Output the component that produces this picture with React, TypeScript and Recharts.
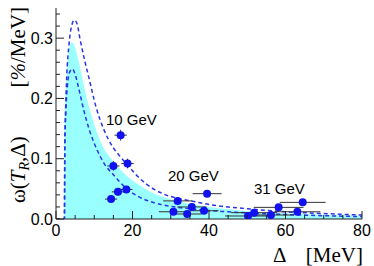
import React from 'react';
import { ComposedChart, XAxis, YAxis, Area, Line, Scatter, ErrorBar } from 'recharts';

const xTicks = [0, 5, 10, 15, 20, 25, 30, 35, 40, 45, 50, 55, 60, 65, 70, 75, 80];
const xMajor = [0, 20, 40, 60, 80];
const yTicks = [0, 0.02, 0.04, 0.06, 0.08, 0.1, 0.12, 0.14, 0.16, 0.18, 0.2, 0.22, 0.24, 0.26, 0.28, 0.3, 0.32, 0.34];
const yMajor = [0, 0.1, 0.2, 0.3];
const yMajorLabels = ['0.0', '0.1', '0.2', '0.3'];

const cyanBand = [
  { x: 2.2, y: 0 }, { x: 2.25, y: 0.16 }, { x: 2.8, y: 0.235 }, { x: 3.4, y: 0.278 },
  { x: 4.1, y: 0.293 }, { x: 4.8, y: 0.288 }, { x: 5.5, y: 0.272 }, { x: 6.5, y: 0.245 },
  { x: 7.5, y: 0.215 }, { x: 8.8, y: 0.182 }, { x: 10.5, y: 0.147 }, { x: 12.6, y: 0.116 },
  { x: 14.8, y: 0.097 }, { x: 17, y: 0.081 }, { x: 19, y: 0.069 }, { x: 21.3, y: 0.058 },
  { x: 25.7, y: 0.042 }, { x: 28.3, y: 0.036 }, { x: 32, y: 0.029 }, { x: 36, y: 0.024 },
  { x: 40, y: 0.02 }, { x: 45, y: 0.016 }, { x: 50, y: 0.013 }, { x: 60, y: 0.0095 },
  { x: 70, y: 0.007 }, { x: 80, y: 0.0055 },
];

const upperCurve = [
  { x: 0, y: 0 }, { x: 2.2, y: 0 }, { x: 2.3, y: 0.12 }, { x: 2.5, y: 0.18 }, { x: 2.8, y: 0.235 },
  { x: 3.4, y: 0.29 }, { x: 4, y: 0.318 }, { x: 4.8, y: 0.33 }, { x: 5.5, y: 0.324 },
  { x: 6.3, y: 0.298 }, { x: 7.5, y: 0.263 }, { x: 8.5, y: 0.237 }, { x: 10.5, y: 0.185 },
  { x: 12.6, y: 0.147 }, { x: 15, y: 0.118 }, { x: 17, y: 0.102 }, { x: 19.2, y: 0.086 },
  { x: 21.3, y: 0.071 }, { x: 25.7, y: 0.049 }, { x: 28.3, y: 0.041 }, { x: 32, y: 0.034 },
  { x: 36, y: 0.029 }, { x: 40, y: 0.024 }, { x: 45, y: 0.02 }, { x: 50, y: 0.017 },
  { x: 60, y: 0.012 }, { x: 70, y: 0.009 }, { x: 80, y: 0.0065 },
];

const lowerCurve = [
  { x: 0, y: 0 }, { x: 2.2, y: 0 }, { x: 2.3, y: 0.12 }, { x: 2.6, y: 0.18 }, { x: 3, y: 0.222 },
  { x: 3.6, y: 0.244 }, { x: 4.3, y: 0.249 }, { x: 5, y: 0.24 }, { x: 6, y: 0.215 },
  { x: 7.2, y: 0.182 }, { x: 8.7, y: 0.148 }, { x: 10.5, y: 0.118 }, { x: 12.6, y: 0.092 },
  { x: 15.2, y: 0.072 }, { x: 17.8, y: 0.054 }, { x: 21.3, y: 0.038 }, { x: 25.7, y: 0.027 },
  { x: 30, y: 0.021 }, { x: 35, y: 0.017 }, { x: 40, y: 0.014 }, { x: 45, y: 0.012 },
  { x: 50, y: 0.01 }, { x: 60, y: 0.0075 }, { x: 70, y: 0.0055 }, { x: 80, y: 0.004 },
];

const pts10 = [
  { x: 16.9, y: 0.139, ex: 1.6, ey: 0.009 },
  { x: 15.0, y: 0.088, ex: 1.6, ey: 0.008 },
  { x: 18.7, y: 0.092, ex: 1.6, ey: 0.008 },
  { x: 16.2, y: 0.045, ex: 1.6, ey: 0.006 },
  { x: 18.4, y: 0.049, ex: 1.6, ey: 0.006 },
  { x: 14.4, y: 0.033, ex: 1.6, ey: 0.005 },
];

const pts20 = [
  { x: 39.5, y: 0.042, ex: 3.8, ey: 0.005 },
  { x: 31.8, y: 0.030, ex: 3.8, ey: 0.004 },
  { x: 35.5, y: 0.020, ex: 3.8, ey: 0.004 },
  { x: 38.7, y: 0.0137, ex: 3.8, ey: 0.003 },
  { x: 30.7, y: 0.012, ex: 3.8, ey: 0.003 },
  { x: 34.3, y: 0.0083, ex: 3.8, ey: 0.003 },
];

const pts31 = [
  { x: 64.5, y: 0.0276, ex: 6, ey: 0.004 },
  { x: 58.2, y: 0.0193, ex: 6.5, ey: 0.003 },
  { x: 63.1, y: 0.012, ex: 6, ey: 0.003 },
  { x: 51.8, y: 0.0105, ex: 6, ey: 0.003 },
  { x: 50.2, y: 0.005, ex: 6, ey: 0.002 },
  { x: 56.2, y: 0.0066, ex: 6, ey: 0.002 },
];

const groupLabels = ['10 GeV', '20 GeV', '31 GeV'];

const FRAME = '#222';
const SANS = '"Liberation Sans", Arial, Helvetica, sans-serif';
const SERIF = '"Liberation Serif", "Times New Roman", serif';
const MAJ = 8;
const MIN = 4;

const isXMajor = (v: number) => xMajor.some((m) => Math.abs(m - v) < 1e-9);
const yMajorIndex = (v: number) => yMajor.findIndex((m) => Math.abs(m - v) < 1e-9);

const BottomTick = (p: any) => {
  const v = p.payload.value;
  const major = isXMajor(v);
  return (
    <g>
      <line x1={p.x} x2={p.x} y1={p.y} y2={p.y - (major ? MAJ : MIN)} stroke={FRAME} />
      {major && (
        <text x={p.x} y={p.y + 17} textAnchor="middle" fontSize={16} fontFamily={SANS} fill="#000">
          {v}
        </text>
      )}
    </g>
  );
};

const TopTick = (p: any) => {
  const major = isXMajor(p.payload.value);
  return <line x1={p.x} x2={p.x} y1={p.y} y2={p.y + (major ? MAJ : MIN)} stroke={FRAME} />;
};

const LeftTick = (p: any) => {
  const idx = yMajorIndex(p.payload.value);
  const major = idx >= 0;
  return (
    <g>
      <line x1={p.x} x2={p.x + (major ? MAJ : MIN)} y1={p.y} y2={p.y} stroke={FRAME} />
      {major && (
        <text x={p.x - 3} y={p.y + 5.5} textAnchor="end" fontSize={16} fontFamily={SANS} fill="#000">
          {yMajorLabels[idx]}
        </text>
      )}
    </g>
  );
};

const RightTick = (p: any) => {
  const major = yMajorIndex(p.payload.value) >= 0;
  return <line x1={p.x} x2={p.x - (major ? MAJ : MIN)} y1={p.y} y2={p.y} stroke={FRAME} />;
};

const Dot = (p: any) => <circle cx={p.cx} cy={p.cy} r={4} fill="#1212f0" />;

export default function App() {
  return (
    <div style={{ position: 'absolute', left: 0, top: 0, width: 374, height: 266, background: '#fff' }}>
      <ComposedChart width={374} height={266} margin={{ top: 8, right: 12, bottom: 0, left: 0 }}>
        <XAxis
          dataKey="x"
          type="number"
          domain={[0, 80]}
          ticks={xTicks}
          interval={0}
          allowDataOverflow
          height={47}
          tickSize={0}
          tickMargin={0}
          tickLine={false}
          axisLine={{ stroke: FRAME }}
          tick={<BottomTick />}
        />
        <XAxis
          xAxisId="t"
          orientation="top"
          type="number"
          domain={[0, 80]}
          ticks={xTicks}
          interval={0}
          allowDataOverflow
          height={0}
          tickSize={0}
          tickMargin={0}
          tickLine={false}
          axisLine={{ stroke: FRAME }}
          tick={<TopTick />}
        />
        <YAxis
          type="number"
          domain={[0, 0.35]}
          ticks={yTicks}
          interval={0}
          allowDataOverflow
          width={56}
          tickSize={0}
          tickMargin={0}
          tickLine={false}
          axisLine={{ stroke: FRAME }}
          tick={<LeftTick />}
        />
        <YAxis
          yAxisId="r"
          orientation="right"
          type="number"
          domain={[0, 0.35]}
          ticks={yTicks}
          interval={0}
          allowDataOverflow
          width={0}
          tickSize={0}
          tickMargin={0}
          tickLine={false}
          axisLine={{ stroke: FRAME }}
          tick={<RightTick />}
        />
        <Area
          data={cyanBand}
          dataKey="y"
          type="monotone"
          fill="#99ffff"
          fillOpacity={1}
          stroke="none"
          baseValue={0}
          isAnimationActive={false}
        />
        <Line
          data={lowerCurve}
          dataKey="y"
          type="monotone"
          stroke="#2a35e8"
          strokeWidth={1.5}
          strokeDasharray="4 3"
          dot={false}
          isAnimationActive={false}
        />
        <Line
          data={upperCurve}
          dataKey="y"
          type="monotone"
          stroke="#2a35e8"
          strokeWidth={1.5}
          strokeDasharray="4 3"
          dot={false}
          isAnimationActive={false}
        />
        {[pts10, pts20, pts31].map((d, i) => (
          <Scatter key={i} data={d} dataKey="y" shape={<Dot />} isAnimationActive={false}>
            <ErrorBar dataKey="ex" direction="x" width={0} stroke="#333" strokeWidth={1} />
            <ErrorBar dataKey="ey" direction="y" width={0} stroke="#333" strokeWidth={1} />
          </Scatter>
        ))}
      </ComposedChart>
      <svg
        width={374}
        height={266}
        style={{ position: 'absolute', left: 0, top: 0, pointerEvents: 'none' }}
      >
        <text x={106} y={125} fontSize={15} fontFamily={SANS} fill="#000">{groupLabels[0]}</text>
        <text x={168} y={181} fontSize={15} fontFamily={SANS} fill="#000">{groupLabels[1]}</text>
        <text x={254} y={194} fontSize={15} fontFamily={SANS} fill="#000">{groupLabels[2]}</text>
        <text x={273} y={262} fontSize={21} fontFamily={SERIF} fill="#000">Δ</text>
        <text x={363} y={262} fontSize={21} fontFamily={SERIF} fill="#000" textAnchor="end">[MeV]</text>
        <text transform="translate(25,203) rotate(-90)" fontSize={21} fontFamily={SERIF} fill="#000">
          ω(<tspan fontStyle="italic">T</tspan>
          <tspan fontStyle="italic" fontSize={14} dy={4}>R</tspan>
          <tspan dy={-4}>,Δ)</tspan>
        </text>
        <text transform="translate(25,7) rotate(-90)" fontSize={21} fontFamily={SERIF} fill="#000" textAnchor="end">
          [<tspan fontStyle="italic">%</tspan>/MeV]
        </text>
      </svg>
    </div>
  );
}
